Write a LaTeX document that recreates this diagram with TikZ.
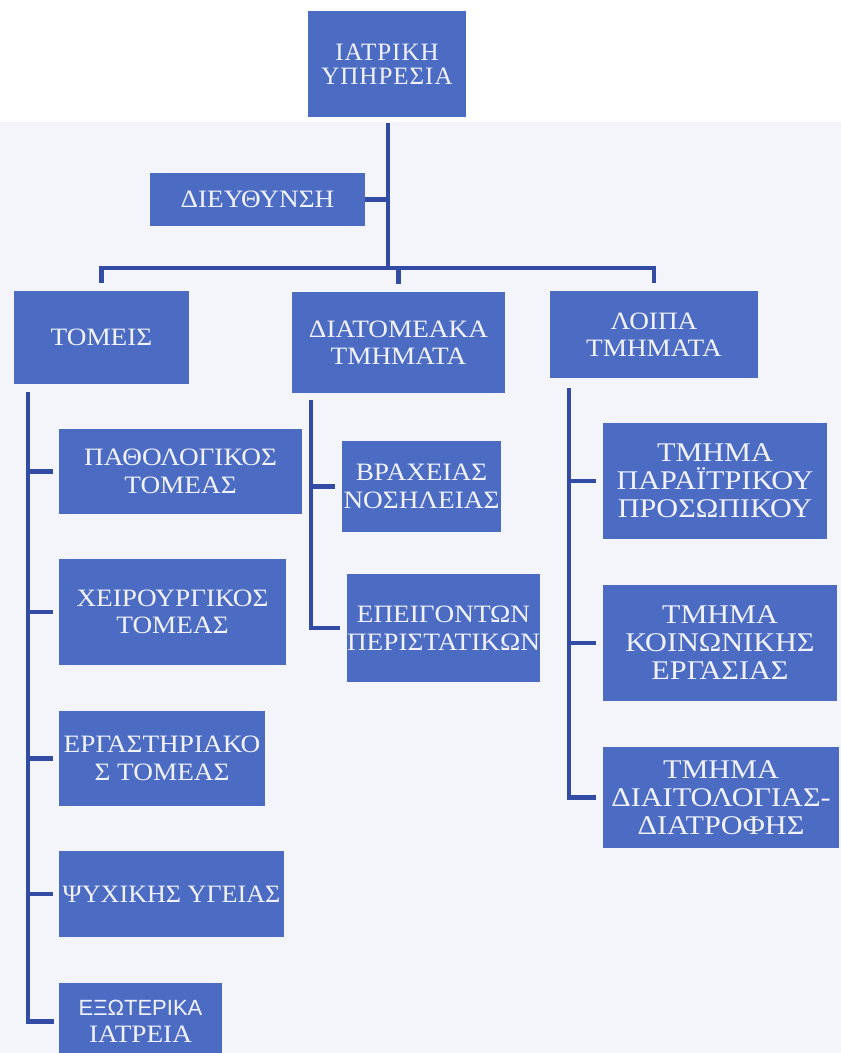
\documentclass[tikz,border=0pt]{standalone}
\usepackage{fontspec}
\setmainfont[FakeStretch=1.09]{Liberation Serif}
\newfontfamily\widef[FakeStretch=1.12]{Liberation Serif}
\newfontfamily\medf[FakeStretch=1.045]{Liberation Serif}
\newfontfamily\topf[LetterSpace=4]{Liberation Serif}
\newfontfamily\arialf{Liberation Sans}
\definecolor{boxblue}{RGB}{76,108,196}
\definecolor{lineblue}{RGB}{50,76,166}
\definecolor{bgblue}{RGB}{243,245,251}
\definecolor{txtwhite}{RGB}{242,243,250}
\begin{document}
\begin{tikzpicture}[x=1pt,y=-1pt,
  orgbox/.style={fill=boxblue,draw=none,text=txtwhite,align=center,inner sep=0pt,
    font=\fontsize{25}{27.5}\selectfont},
  bigbox/.style={orgbox,font=\widef\fontsize{27}{28}\selectfont},
  conn/.style={draw=lineblue,line width=4.5pt}]
\useasboundingbox (0,0) rectangle (841,1053);
\fill[bgblue] (0,0) rectangle (841,1053);
\fill[white] (0,0) rectangle (841,122);
\begin{scope}
\clip (0,0) rectangle (841,1053);
\node[orgbox,minimum width=158pt,minimum height=106pt,font=\topf\fontsize{25}{24.5}\selectfont] (top) at (387,64) {ΙΑΤΡΙΚΗ\\ΥΠΗΡΕΣΙΑ};
\node[orgbox,minimum width=215pt,minimum height=53pt] (dir) at (257.5,199.5) {ΔΙΕΥΘΥΝΣΗ};
\node[orgbox,minimum width=175pt,minimum height=93pt] (tom) at (101.5,337.5) {ΤΟΜΕΙΣ};
\node[orgbox,minimum width=213pt,minimum height=101pt] (diat) at (398.5,342.5) {ΔΙΑΤΟΜΕΑΚΑ\\ΤΜΗΜΑΤΑ};
\node[orgbox,minimum width=208pt,minimum height=87pt] (loipa) at (654,334.5) {ΛΟΙΠΑ\\ΤΜΗΜΑΤΑ};
\node[orgbox,minimum width=243pt,minimum height=85pt] (path) at (180.5,471.5) {ΠΑΘΟΛΟΓΙΚΟΣ\\ΤΟΜΕΑΣ};
\node[orgbox,minimum width=227pt,minimum height=106pt] (xeir) at (172.5,612) {ΧΕΙΡΟΥΡΓΙΚΟΣ\\ΤΟΜΕΑΣ};
\node[orgbox,minimum width=206pt,minimum height=95pt] (erg) at (162,758.5) {ΕΡΓΑΣΤΗΡΙΑΚΟ\\Σ ΤΟΜΕΑΣ};
\node[orgbox,minimum width=225pt,minimum height=86pt,font=\medf\fontsize{25}{27.5}\selectfont] (psy) at (171.5,894) {ΨΥΧΙΚΗΣ ΥΓΕΙΑΣ};
\node[orgbox,minimum width=163pt,minimum height=77pt] (exo) at (140.5,1021.5) {{\arialf\fontsize{22}{28}\selectfont ΕΞΩΤΕΡΙΚΑ}\\ΙΑΤΡΕΙΑ};
\node[orgbox,minimum width=159pt,minimum height=91pt] (brax) at (421.5,486.5) {ΒΡΑΧΕΙΑΣ\\ΝΟΣΗΛΕΙΑΣ};
\node[orgbox,minimum width=193pt,minimum height=108pt] (epeig) at (443.5,628) {ΕΠΕΙΓΟΝΤΩΝ\\ΠΕΡΙΣΤΑΤΙΚΩΝ};
\node[bigbox,minimum width=224pt,minimum height=116pt] (tm1) at (715,481) {ΤΜΗΜΑ\\ΠΑΡΑΪΤΡΙΚΟΥ\\ΠΡΟΣΩΠΙΚΟΥ};
\node[bigbox,minimum width=234pt,minimum height=116pt] (tm2) at (720,643) {ΤΜΗΜΑ\\ΚΟΙΝΩΝΙΚΗΣ\\ΕΡΓΑΣΙΑΣ};
\node[bigbox,minimum width=236pt,minimum height=101pt] (tm3) at (721,797.5) {ΤΜΗΜΑ\\ΔΙΑΙΤΟΛΟΓΙΑΣ-\\ΔΙΑΤΡΟΦΗΣ};
\end{scope}
% helper coordinates
\coordinate (busY) at (0,268);
\coordinate (trunkX) at (388,0);
\coordinate (lsp) at (28,392);
\coordinate (msp) at (311,400);
\coordinate (rsp) at (569,388);
% top trunk
\draw[conn] ([yshift=-6pt]top.south -| trunkX) -- (busY -| trunkX);
\draw[conn] (dir.east) -- (dir.east -| trunkX);
% bus
\draw[conn] ([yshift=8pt]tom.north) -- (tom.north |- busY) -- (loipa.north |- busY) -- ([yshift=8pt]loipa.north);
\draw[conn] ([yshift=8pt]diat.north) -- (diat.north |- busY);
% left spine
\draw[conn] (lsp) |- ([xshift=-5pt]exo.west);
\draw[conn] (path.west -| lsp) -- ([xshift=-6pt]path.west);
\draw[conn] (xeir.west -| lsp) -- ([xshift=-6pt]xeir.west);
\draw[conn] (erg.west -| lsp) -- ([xshift=-6pt]erg.west);
\draw[conn] (psy.west -| lsp) -- ([xshift=-6pt]psy.west);
% middle spine
\draw[conn] (msp) |- ([xshift=-7pt]epeig.west);
\draw[conn] (brax.west -| msp) -- ([xshift=-7pt]brax.west);
% right spine
\draw[conn] (rsp) |- ([xshift=-7pt]tm3.west);
\draw[conn] (tm1.west -| rsp) -- ([xshift=-7pt]tm1.west);
\draw[conn] (tm2.west -| rsp) -- ([xshift=-7pt]tm2.west);
\end{tikzpicture}
\end{document}
